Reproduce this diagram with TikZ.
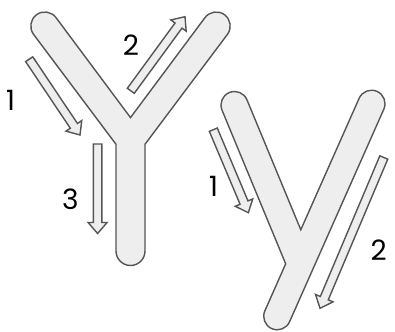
\documentclass[tikz,border=0pt]{standalone}
\usepackage{fontspec}
\setmainfont{Poppins}
\usetikzlibrary{calc}
\definecolor{edgegray}{RGB}{85,85,85}
\definecolor{bodygray}{RGB}{238,238,238}
\tikzset{
  ybody/.style={draw=edgegray, fill=bodygray, line width=1.4pt, line join=miter},
  arrbody/.style={draw=edgegray, fill=bodygray, line width=1.4pt, line join=miter},
  lbl/.style={inner sep=0pt, font=\fontsize{28}{28}\selectfont, text=black}
}
\newcommand\blockarr[2]{%
  \coordinate (#1b) at ($(#2)!11pt!(#1)$);
  \draw[arrbody] ($(#1)!4.3pt!90:(#2)$) -- ($(#1b)!4.3pt!90:(#2)$) -- ($(#1b)!9.5pt!90:(#2)$)
    -- (#2) -- ($(#1b)!9.5pt!-90:(#2)$) -- ($(#1b)!4.3pt!-90:(#2)$) -- ($(#1)!4.3pt!-90:(#2)$) -- cycle;
}
\begin{document}
\begin{tikzpicture}[x=1pt, y=-1pt]
\useasboundingbox (0,0) rectangle (395,331);
% left Y
\draw[ybody] (33.6,34.4) -- (116,144.27) -- (116,251) arc[start angle=180, end angle=0, radius=14.5]
  -- (145,144.27) -- (227.4,34.4) arc[start angle=36.87, end angle=-143.13, radius=14]
  -- (130.5,117.6) -- (56,17.6) arc[start angle=-36.87, end angle=-216.87, radius=14] -- cycle;
% right y
\draw[ybody] (222.03,110.17) -- (285.68,263.84) -- (264.86,310.82) arc[start angle=203.9, end angle=23.9, radius=13.5]
  -- (383.84,109.18) arc[start angle=23.9, end angle=-156.1, radius=13.5]
  -- (300.79,229.77) -- (246.97,99.83) arc[start angle=-22.5, end angle=-202.5, radius=13.5] -- cycle;
% arrows
\coordinate (la1t) at (29.2,59.2);   \coordinate (la1h) at (80,135);
\coordinate (la2t) at (130.8,90.8);  \coordinate (la2h) at (185,16.7);
\coordinate (la3t) at (97.6,144);    \coordinate (la3h) at (97.6,233.5);
\coordinate (ra1t) at (213.3,129.7); \coordinate (ra1h) at (248.3,212.7);
\coordinate (ra2t) at (383.8,157.5); \coordinate (ra2h) at (320,308.3);
\blockarr{la1t}{la1h}
\blockarr{la2t}{la2h}
\blockarr{la3t}{la3h}
\blockarr{ra1t}{ra1h}
\blockarr{ra2t}{ra2h}
% labels
\node[lbl] (l1) at (10.5,100.8) {1};
\node[lbl] (l2) at (130.8,44.7) {2};
\node[lbl] (l3) at (70.3,198.8) {3};
\node[lbl] (r1) at (213.7,186.7) {1};
\node[lbl] (r2) at (378.7,250) {2};
\end{tikzpicture}
\end{document}
